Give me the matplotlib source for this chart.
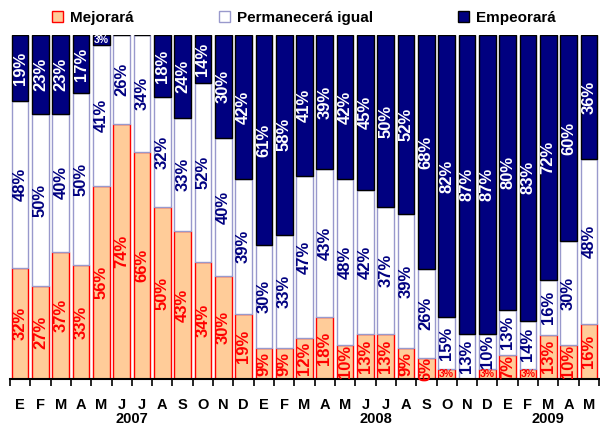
import numpy as np
from matplotlib import pyplot as plt
from matplotlib.patches import Patch
import matplotlib.transforms as mtransforms

plt.rcParams['font.family'] = ['Liberation Sans', 'DejaVu Sans']

# months Jan 2007 .. May 2009
months = ['E', 'F', 'M', 'A', 'M', 'J', 'J', 'A', 'S', 'O', 'N', 'D',
          'E', 'F', 'M', 'A', 'M', 'J', 'J', 'A', 'S', 'O', 'N', 'D',
          'E', 'F', 'M', 'A', 'M']
years = ['2007', '2008', '2009']
year_centers = [5.5, 17.5, 26]

mejorara = [32, 27, 37, 33, 56, 74, 66, 50, 43, 34, 30, 19,
            9, 9, 12, 18, 10, 13, 13, 9, 6, 3, 0, 3,
            7, 3, 13, 10, 16]
permanecera = [48, 50, 40, 50, 41, 26, 34, 32, 33, 52, 40, 39,
               30, 33, 47, 43, 48, 42, 37, 39, 26, 15, 13, 10,
               13, 14, 16, 30, 48]
empeorara = [19, 23, 23, 17, 3, 0, 0, 18, 24, 14, 30, 42,
             61, 58, 41, 39, 42, 45, 50, 52, 68, 82, 87, 87,
             80, 83, 72, 60, 36]

series = [
    ('Mejorará', mejorara, '#FFCC99', '#FF0000', '#FF0000'),
    ('Permanecerá igual', permanecera, '#FFFFFF', '#9999CC', '#000080'),
    ('Empeorará', empeorara, '#000080', '#000000', '#FFFFFF'),
]
legend_x = [52, 219, 458]  # left edge of each legend square, px

vals = np.array([mejorara, permanecera, empeorara], dtype=float)
tot = vals.sum(axis=0)
pct = vals / tot * 100  # 100% stacked

fig = plt.figure(figsize=(6, 4.25), dpi=100)
ax = fig.add_axes([10/600, 46/425, 589/600, 344/425])

x = np.arange(len(months))
bottom = np.zeros(len(months))
for k, (name, raw, fc, ec, tc) in enumerate(series):
    h = pct[k]
    ax.bar(x, h, 0.82, bottom=bottom, color=fc, edgecolor=ec, linewidth=1.0)
    for i in range(len(x)):
        if raw[i] <= 0:
            continue
        yc = bottom[i] + h[i] / 2
        if raw[i] <= 3:
            ax.text(x[i], yc, '%d%%' % raw[i], ha='center', va='center',
                    color=tc, fontsize=7.5, fontweight='bold')
        else:
            ax.text(x[i], yc, '%d%%' % raw[i], ha='center', va='center',
                    color=tc, fontsize=12, fontweight='bold', rotation=90)
    bottom += h
    # one legend per entry, so the spacing can follow the reference
    fig.legend(handles=[Patch(facecolor=fc, edgecolor=ec, label=name)],
               loc='center left', bbox_to_anchor=(legend_x[k]/600, 407/425),
               frameon=False, handlelength=0.7, handleheight=0.7,
               handletextpad=0.5, borderpad=0, borderaxespad=0,
               prop={'weight': 'bold', 'size': 11})

ax.set_xlim(-0.5, len(months) - 0.5)
ax.set_ylim(0, 100)
for s in ['top', 'right', 'left']:
    ax.spines[s].set_visible(False)
ax.spines['bottom'].set_linewidth(1.5)
ax.set_yticks([])
ax.set_xticks(x)
ax.set_xticklabels(months, fontsize=10.5, fontweight='bold')
ax.tick_params(axis='x', which='major', length=0, pad=14)
ax.set_xticks(np.arange(-0.5, len(months)), minor=True)
ax.tick_params(axis='x', which='minor', length=5, width=1.2, direction='out')

trans = mtransforms.blended_transform_factory(ax.transData, fig.transFigure)
for yr, xc in zip(years, year_centers):
    ax.text(xc, -1/425, yr, transform=trans, ha='center', va='bottom',
            fontsize=10.5, fontweight='bold')

fig.savefig('out.png', dpi=100)
